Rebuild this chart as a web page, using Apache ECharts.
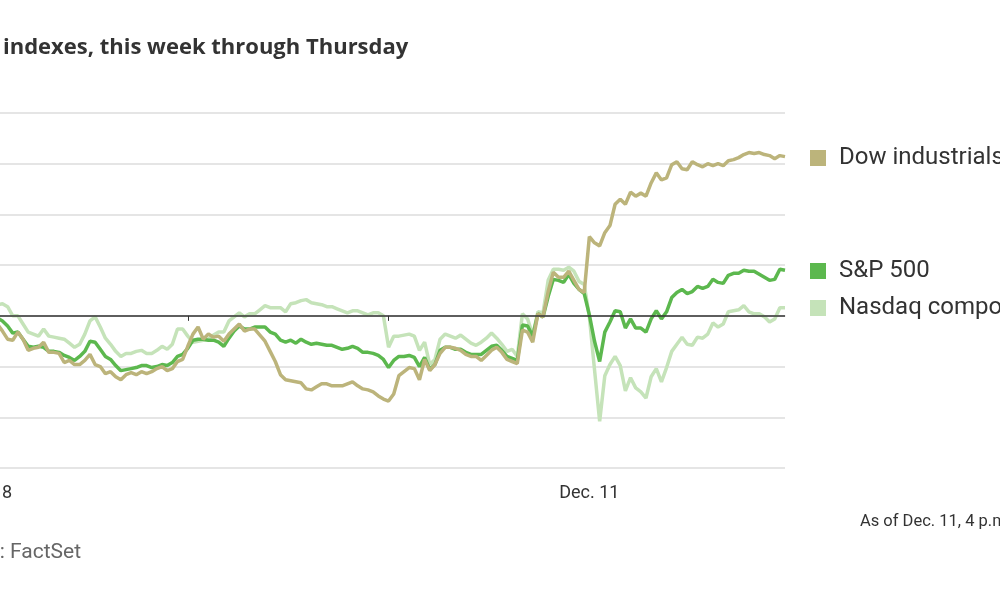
<!DOCTYPE html>
<html>
<head>
<meta charset="utf-8">
<script src="https://cdn.jsdelivr.net/npm/echarts@6/dist/echarts.min.js"></script>
<style>
html,body{margin:0;padding:0;background:#fff;}
#chart{width:1000px;height:600px;}
</style>
</head>
<body>
<div id="chart"></div>
<script>
// x = 10-minute trading steps since Dec. 8 open (39 steps per session)
const seriesNames = ['Dow industrials', 'S&P 500', 'Nasdaq composite'];
const tickValues = [0, 39, 78, 117];
const labelValues = [0, 117];
const tickLabels = ['Dec. 8', 'Dec. 11'];

// percent change vs. prior Friday close
const dow = [
 -0.01,-0.05,-0.08,-0.15,-0.23,-0.24,-0.16,-0.23,-0.34,-0.32,
 -0.31,-0.26,-0.36,-0.36,-0.37,-0.46,-0.44,-0.48,-0.48,-0.44,
 -0.38,-0.48,-0.50,-0.57,-0.55,-0.60,-0.63,-0.58,-0.56,-0.58,
 -0.55,-0.57,-0.55,-0.52,-0.50,-0.54,-0.52,-0.45,-0.43,-0.30,
 -0.18,-0.11,-0.23,-0.18,-0.21,-0.20,-0.25,-0.18,-0.13,-0.08,
 -0.15,-0.13,-0.13,-0.19,-0.25,-0.35,-0.45,-0.58,-0.63,-0.64,
 -0.65,-0.66,-0.72,-0.73,-0.70,-0.67,-0.67,-0.69,-0.69,-0.69,
 -0.67,-0.65,-0.69,-0.72,-0.73,-0.75,-0.79,-0.82,-0.84,-0.77,
 -0.59,-0.55,-0.51,-0.52,-0.63,-0.43,-0.54,-0.48,-0.37,-0.31,
 -0.31,-0.32,-0.34,-0.38,-0.40,-0.40,-0.44,-0.39,-0.34,-0.31,
 -0.36,-0.43,-0.45,-0.47,-0.14,-0.16,-0.26,0.02,-0.01,0.24,
 0.43,0.38,0.38,0.44,0.35,0.26,0.23,0.78,0.72,0.69,
 0.82,0.89,1.10,1.15,1.10,1.22,1.18,1.21,1.18,1.31,
 1.41,1.34,1.36,1.49,1.52,1.45,1.44,1.52,1.49,1.47,
 1.50,1.48,1.50,1.48,1.53,1.54,1.56,1.59,1.61,1.60,
 1.61,1.59,1.58,1.55,1.58,1.57
];
const sp500 = [
 0.01,0.00,-0.02,-0.05,-0.10,-0.17,-0.16,-0.23,-0.30,-0.31,
 -0.30,-0.31,-0.35,-0.35,-0.36,-0.39,-0.41,-0.44,-0.40,-0.35,
 -0.25,-0.26,-0.33,-0.40,-0.43,-0.49,-0.54,-0.53,-0.52,-0.51,
 -0.49,-0.49,-0.51,-0.50,-0.48,-0.49,-0.46,-0.40,-0.38,-0.32,
 -0.24,-0.23,-0.23,-0.24,-0.24,-0.26,-0.30,-0.22,-0.15,-0.10,
 -0.13,-0.13,-0.11,-0.11,-0.11,-0.16,-0.18,-0.24,-0.26,-0.24,
 -0.27,-0.23,-0.26,-0.28,-0.27,-0.28,-0.29,-0.29,-0.31,-0.33,
 -0.32,-0.30,-0.32,-0.36,-0.36,-0.37,-0.39,-0.43,-0.51,-0.44,
 -0.40,-0.40,-0.39,-0.41,-0.50,-0.41,-0.53,-0.48,-0.34,-0.31,
 -0.31,-0.33,-0.33,-0.36,-0.38,-0.38,-0.38,-0.34,-0.30,-0.29,
 -0.34,-0.40,-0.42,-0.44,-0.09,-0.10,-0.20,0.02,-0.01,0.19,
 0.36,0.35,0.33,0.41,0.32,0.26,0.22,0.01,-0.25,-0.45,
 -0.16,-0.06,0.05,0.04,-0.12,-0.03,-0.12,-0.12,-0.16,-0.03,
 0.05,-0.03,0.04,0.18,0.23,0.26,0.22,0.24,0.29,0.27,
 0.29,0.36,0.33,0.32,0.40,0.42,0.42,0.45,0.44,0.44,
 0.41,0.38,0.35,0.36,0.46,0.45
];
const nasdaq = [
 0.05,0.08,0.11,0.12,0.09,0.00,0.00,-0.08,-0.16,-0.18,
 -0.20,-0.13,-0.20,-0.21,-0.22,-0.23,-0.27,-0.31,-0.28,-0.18,
 -0.05,-0.01,-0.11,-0.22,-0.28,-0.35,-0.40,-0.37,-0.37,-0.35,
 -0.34,-0.37,-0.37,-0.34,-0.30,-0.33,-0.28,-0.13,-0.13,-0.20,
 -0.26,-0.25,-0.24,-0.23,-0.19,-0.16,-0.16,-0.05,-0.01,0.03,
 -0.01,0.02,0.02,0.06,0.10,0.08,0.08,0.08,0.04,0.12,
 0.13,0.15,0.16,0.13,0.12,0.11,0.09,0.09,0.07,0.05,
 0.03,0.05,0.05,0.03,0.01,0.03,0.03,0.00,-0.31,-0.20,
 -0.20,-0.19,-0.18,-0.20,-0.34,-0.26,-0.48,-0.43,-0.23,-0.18,
 -0.20,-0.22,-0.19,-0.23,-0.27,-0.29,-0.26,-0.22,-0.17,-0.22,
 -0.28,-0.35,-0.33,-0.40,0.02,-0.03,-0.19,0.04,0.03,0.35,
 0.46,0.46,0.45,0.48,0.44,0.34,0.31,-0.01,-0.53,-1.04,
 -0.59,-0.48,-0.40,-0.49,-0.74,-0.61,-0.71,-0.75,-0.81,-0.60,
 -0.52,-0.65,-0.51,-0.35,-0.28,-0.21,-0.28,-0.29,-0.21,-0.22,
 -0.18,-0.07,-0.11,-0.08,0.04,0.05,0.06,0.10,0.04,0.02,
 0.02,-0.01,-0.06,-0.03,0.08,0.08
];

const FONT = 'Roboto, sans-serif';
const colors = ['#bcb47b', '#5cb84e', '#c5e3b9'];
const toPairs = arr => arr.map((v, i) => [i, v]);

const chart = echarts.init(document.getElementById('chart'), null, {renderer: 'canvas'});

function legendFor(name, top) {
  return {
    data: [name], left: 810, top: top, padding: 0,
    icon: 'rect', itemWidth: 16, itemHeight: 16,
    selectedMode: false,
    textStyle: {fontFamily: FONT, fontSize: 24, color: '#333', padding: [0, 0, 0, 8]}
  };
}

chart.setOption({
  animation: false,
  backgroundColor: '#fff',
  title: {
    text: 'indexes, this week through Thursday',
    left: 3, top: 37, padding: 0,
    textStyle: {fontFamily: '"Open Sans", sans-serif', fontSize: 22, fontWeight: 'bold', color: '#333'}
  },
  legend: [
    legendFor(seriesNames[0], 146),
    legendFor(seriesNames[1], 259),
    legendFor(seriesNames[2], 296)
  ],
  grid: {left: -13, right: 215, top: 113, bottom: 132, containLabel: false, outerBoundsMode: 'none'},
  xAxis: {
    type: 'value', min: 0, max: 155, interval: 39,
    axisLine: {show: true, lineStyle: {color: '#dcdcdc', width: 1.5}},
    axisTick: {show: true, customValues: tickValues, length: 5, lineStyle: {color: '#333', width: 1}},
    axisLabel: {
      show: true, customValues: labelValues, margin: 16,
      fontFamily: FONT, fontSize: 18, color: '#333',
      formatter: v => { const k = labelValues.indexOf(v); return k >= 0 ? tickLabels[k] : ''; }
    },
    splitLine: {show: false}
  },
  yAxis: {
    type: 'value', min: -1.5, max: 2, interval: 0.5,
    axisLine: {show: false}, axisTick: {show: false}, axisLabel: {show: false},
    splitLine: {show: true, lineStyle: {color: '#dcdcdc', width: 1.5}}
  },
  graphic: [
    {type: 'text', left: 860, top: 513, style: {text: 'As of Dec. 11, 4 p.m.', font: '16.5px ' + FONT, fill: '#333'}},
    {type: 'text', x: 81, y: 553, style: {text: 'Source: FactSet', font: '21px ' + FONT, fill: '#666', align: 'right', verticalAlign: 'middle'}}
  ],
  series: [
    {
      name: seriesNames[2], type: 'line', data: toPairs(nasdaq), z: 2,
      color: colors[2], showSymbol: false, symbol: 'none',
      lineStyle: {width: 3.5, color: colors[2]},
      markLine: {
        silent: true, symbol: 'none', label: {show: false},
        lineStyle: {color: '#333', width: 1.5, type: 'solid'},
        data: [{yAxis: 0}]
      }
    },
    {
      name: seriesNames[1], type: 'line', data: toPairs(sp500), z: 3,
      color: colors[1], showSymbol: false, symbol: 'none',
      lineStyle: {width: 3.5, color: colors[1]}
    },
    {
      name: seriesNames[0], type: 'line', data: toPairs(dow), z: 4,
      color: colors[0], showSymbol: false, symbol: 'none',
      lineStyle: {width: 3.5, color: colors[0]}
    }
  ]
});
</script>
</body>
</html>
